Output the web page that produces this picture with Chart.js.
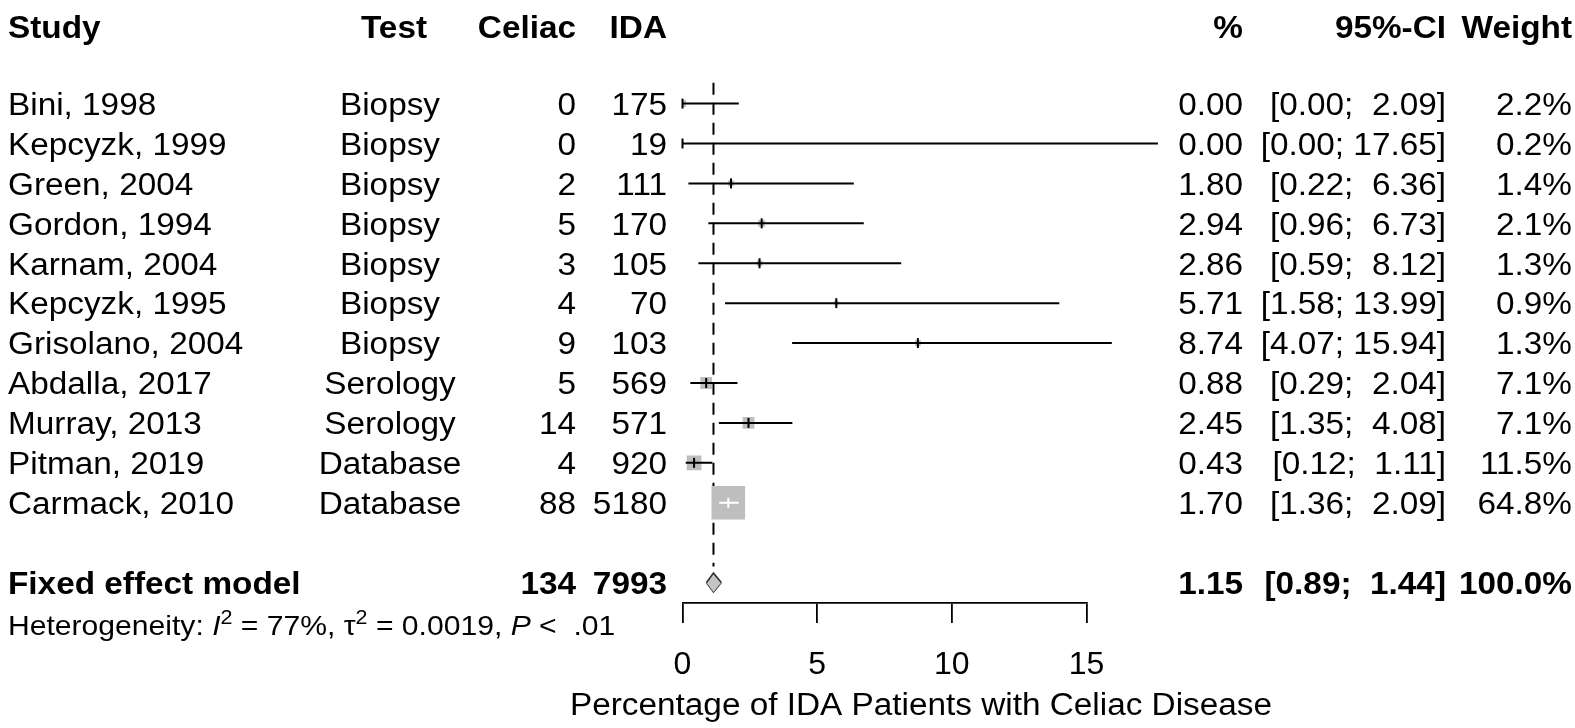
<!DOCTYPE html>
<html><head><meta charset="utf-8">
<script src="https://cdn.jsdelivr.net/npm/chart.js@4/dist/chart.umd.min.js"></script>
<style>html,body{margin:0;padding:0;background:#fff;overflow:hidden}#wrap{position:relative;width:1575px;height:728px}</style>
</head><body><div id="wrap"><canvas id="c" width="1575" height="728"></canvas></div>
<script>
// ---------- data ----------
const studies   = ['Bini, 1998','Kepcyzk, 1999','Green, 2004','Gordon, 1994','Karnam, 2004','Kepcyzk, 1995','Grisolano, 2004','Abdalla, 2017','Murray, 2013','Pitman, 2019','Carmack, 2010'];
const tests     = ['Biopsy','Biopsy','Biopsy','Biopsy','Biopsy','Biopsy','Biopsy','Serology','Serology','Database','Database'];
const celiac    = [0,0,2,5,3,4,9,5,14,4,88];
const ida       = [175,19,111,170,105,70,103,569,571,920,5180];
const estimates = [0.00,0.00,1.80,2.94,2.86,5.71,8.74,0.88,2.45,0.43,1.70];
const lowerCI   = [0.00,0.00,0.22,0.96,0.59,1.58,4.07,0.29,1.35,0.12,1.36];
const upperCI   = [2.09,17.65,6.36,6.73,8.12,13.99,15.94,2.04,4.08,1.11,2.09];
const weights   = [2.2,0.2,1.4,2.1,1.3,0.9,1.3,7.1,7.1,11.5,64.8];

const pooledLabel  = 'Fixed effect model';
const pooledCeliac = 134;
const pooledIda    = 7993;
const pooledEst    = 1.15;
const pooledLower  = 0.89;
const pooledUpper  = 1.44;
const pooledWeight = 100.0;

const headers    = ['Study','Test','Celiac','IDA','%','95%-CI','Weight'];
const xTickVals  = [0,5,10,15];
const xTitle     = 'Percentage of IDA Patients with Celiac Disease';
const hetParts   = [
  {t:'Heterogeneity: ', s:'n'}, {t:'I', s:'i'}, {t:'2', s:'sup'}, {t:' = 77%, ', s:'n'},
  {t:'\u03C4', s:'n'}, {t:'2', s:'sup'}, {t:' = 0.0019, ', s:'n'}, {t:'P', s:'i'}, {t:' <  .01', s:'n'}
];

// ---------- layout / style constants ----------
const W = 1575, H = 728;
const X0_PX = 682.5, X15_PX = 1086.5;
const PX_PER_UNIT = (X15_PX - X0_PX) / 15;
const TOP_PAD = 19.6, AXIS_Y = 603;
const Y_MIN = -2, Y_MAX = 12.512;
const POOLED_ROW = studies.length + 1;     // blank row between
const HET_ROW = POOLED_ROW + 1;
const HEADER_ROW = -1.93;
const COL = { study: 8, testHead: 394, test: 390, celiac: 576, ida: 667, pct: 1243, ci: 1446, weight: 1572 };
const DIAMOND_HALF = 9.5 / 40.2;            // in row units
const FONT = '"Liberation Sans", Arial, Helvetica, sans-serif';
const FS = 31, SX = 1.075, HET_FS = 28;
const GREY = '#bebebe';

const n = studies.length;
const sides = weights.map(w => 4.05 * Math.sqrt(w) + 1);
const inside = lowerCI.map((lo, i) => (upperCI[i] - lo) * PX_PER_UNIT < sides[i]);

const ciBlack = [], ciWhite = [];
for (let i = 0; i < n; i++) {
  const tgt = inside[i] ? ciWhite : ciBlack;
  tgt.push({x: lowerCI[i], y: i}, {x: upperCI[i], y: i}, {x: upperCI[i], y: null});
}
const estPts = estimates.map((e, i) => ({x: e, y: i}));

const fmt2 = v => v.toFixed(2);
const ciText = (lo, hi) => '[' + fmt2(lo) + '; ' + fmt2(hi).padStart(5, ' ') + ']';

// ---------- text plugin ----------
function txt(ctx, s, x, y, align, font) {
  ctx.save();
  ctx.font = font;
  ctx.fillStyle = '#000';
  ctx.textAlign = align;
  ctx.textBaseline = 'alphabetic';
  ctx.translate(x, y);
  ctx.scale(SX, 1);
  ctx.fillText(s, 0, 0);
  ctx.restore();
}
const tablePlugin = {
  id: 'forestTable',
  afterDraw(chart) {
    const ctx = chart.ctx;
    const ys = chart.scales.y;
    const base = r => ys.getPixelForValue(r) + 11.3;
    const reg = FS + 'px ' + FONT, bold = 'bold ' + FS + 'px ' + FONT;
    // header
    const hy = base(HEADER_ROW);
    txt(ctx, headers[0], COL.study, hy, 'left', bold);
    txt(ctx, headers[1], COL.testHead, hy, 'center', bold);
    txt(ctx, headers[2], COL.celiac, hy, 'right', bold);
    txt(ctx, headers[3], COL.ida, hy, 'right', bold);
    txt(ctx, headers[4], COL.pct, hy, 'right', bold);
    txt(ctx, headers[5], COL.ci, hy, 'right', bold);
    txt(ctx, headers[6], COL.weight, hy, 'right', bold);
    // study rows
    for (let i = 0; i < n; i++) {
      const y = base(i);
      txt(ctx, studies[i], COL.study, y, 'left', reg);
      txt(ctx, tests[i], COL.test, y, 'center', reg);
      txt(ctx, String(celiac[i]), COL.celiac, y, 'right', reg);
      txt(ctx, String(ida[i]), COL.ida, y, 'right', reg);
      txt(ctx, fmt2(estimates[i]), COL.pct, y, 'right', reg);
      txt(ctx, ciText(lowerCI[i], upperCI[i]), COL.ci, y, 'right', reg);
      txt(ctx, weights[i].toFixed(1) + '%', COL.weight, y, 'right', reg);
    }
    // pooled row
    const py = base(POOLED_ROW);
    txt(ctx, pooledLabel, COL.study, py, 'left', bold);
    txt(ctx, String(pooledCeliac), COL.celiac, py, 'right', bold);
    txt(ctx, String(pooledIda), COL.ida, py, 'right', bold);
    txt(ctx, fmt2(pooledEst), COL.pct, py, 'right', bold);
    txt(ctx, ciText(pooledLower, pooledUpper), COL.ci, py, 'right', bold);
    txt(ctx, pooledWeight.toFixed(1) + '%', COL.weight, py, 'right', bold);
    // heterogeneity
    let hx = COL.study;
    const hyy = ys.getPixelForValue(HET_ROW) + 12.5;
    for (const p of hetParts) {
      let f, dy = 0;
      if (p.s === 'i') f = 'italic ' + HET_FS + 'px ' + FONT;
      else if (p.s === 'sup') { f = Math.round(HET_FS * 0.7) + 'px ' + FONT; dy = -11; }
      else f = HET_FS + 'px ' + FONT;
      ctx.save(); ctx.font = f;
      const w = ctx.measureText(p.t).width * SX;
      ctx.restore();
      txt(ctx, p.t, hx, hyy + dy, 'left', f);
      hx += w;
    }
    // x-axis title
    txt(ctx, xTitle, 921, 715, 'center', FS + 'px ' + FONT);
  }
};

// ---------- chart ----------
new Chart(document.getElementById('c'), {
  type: 'scatter',
  data: {
    datasets: [
      { // reference (pooled) dashed line
        type: 'line', order: 6,
        data: [{x: pooledEst, y: -0.52}, {x: pooledEst, y: 11.6}],
        borderColor: '#000', borderWidth: 2, borderDash: [12, 8],
        pointRadius: 0, fill: false, tension: 0
      },
      { // weight squares
        type: 'scatter', order: 5,
        data: estPts,
        pointStyle: 'rect',
        pointRadius: sides.map(s => s / (2 * Math.SQRT1_2)),
        pointHoverRadius: sides.map(s => s / (2 * Math.SQRT1_2)),
        backgroundColor: GREY, borderWidth: 0, pointBorderWidth: 0
      },
      { // CI lines
        type: 'line', order: 4,
        data: ciBlack, borderColor: '#000', borderWidth: 2,
        pointRadius: 0, spanGaps: false, fill: false, tension: 0, clip: false
      },
      { // estimate ticks
        type: 'scatter', order: 3,
        data: estPts, pointStyle: 'line', rotation: 90,
        pointRadius: 5, pointHoverRadius: 5,
        pointBorderWidth: 2, pointBorderColor: inside.map(v => v ? '#fff' : '#000'),
        borderColor: inside.map(v => v ? '#fff' : '#000'), clip: false
      },
      { // CI lines inside squares
        type: 'line', order: 2,
        data: ciWhite, borderColor: '#fff', borderWidth: 2,
        pointRadius: 0, spanGaps: false, fill: false, tension: 0
      },
      { // diamond upper half
        type: 'line', order: 1,
        data: [{x: pooledLower, y: POOLED_ROW}, {x: pooledEst, y: POOLED_ROW - DIAMOND_HALF}, {x: pooledUpper, y: POOLED_ROW}],
        borderColor: '#333', borderWidth: 1.6, backgroundColor: '#c4c4c4',
        pointRadius: 0, fill: '+1', tension: 0
      },
      { // diamond lower half
        type: 'line', order: 1,
        data: [{x: pooledLower, y: POOLED_ROW}, {x: pooledEst, y: POOLED_ROW + DIAMOND_HALF}, {x: pooledUpper, y: POOLED_ROW}],
        borderColor: '#333', borderWidth: 1.6,
        pointRadius: 0, fill: false, tension: 0
      }
    ]
  },
  options: {
    responsive: false, devicePixelRatio: 1, animation: false, events: [],
    layout: { padding: { left: X0_PX, right: W - X15_PX, top: TOP_PAD, bottom: 0 } },
    plugins: { legend: { display: false }, tooltip: { enabled: false } },
    scales: {
      x: {
        type: 'linear', min: 0, max: 15,
        afterBuildTicks: s => { s.ticks = xTickVals.map(v => ({value: v})); },
        afterFit: s => { s.height = H - AXIS_Y; },
        ticks: { color: '#000', font: { family: FONT, size: 32 }, padding: 22.8, maxRotation: 0 },
        grid: { drawOnChartArea: false, drawTicks: true, tickLength: 20, color: '#000', lineWidth: 1.8 },
        border: { display: true, color: '#000', width: 1.8 },
        title: { display: false }
      },
      y: {
        type: 'linear', display: false, reverse: true, min: Y_MIN, max: Y_MAX
      }
    }
  },
  plugins: [tablePlugin]
});
</script>
</body></html>
